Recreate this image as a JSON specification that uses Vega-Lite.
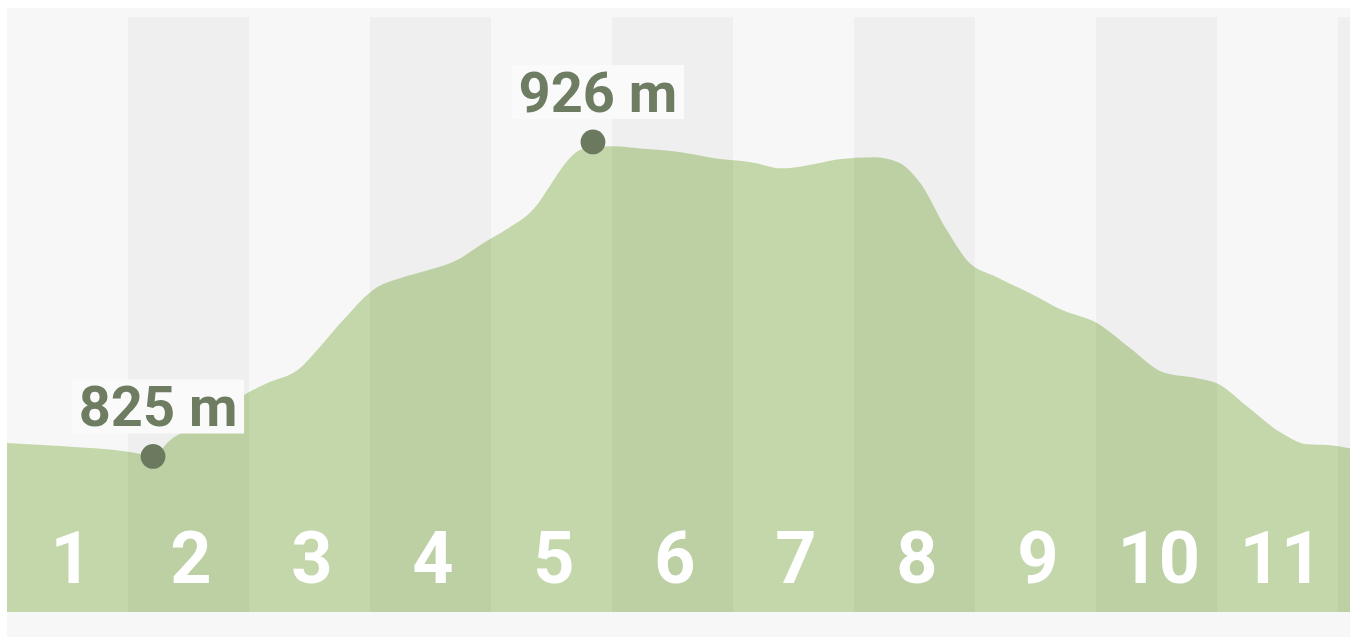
{
  "$schema": "https://vega.github.io/schema/vega-lite/v6.json",
  "width": 1343,
  "height": 629,
  "autosize": {"type": "none"},
  "padding": {"left": 7, "top": 8, "right": 3, "bottom": 0},
  "background": "#ffffff",
  "view": {"fill": "#f7f7f7", "stroke": null},
  "config": {"font": "Roboto"},
  "datasets": {
    "profile": [
      {"km": 0, "elev": 829.3},
      {"km": 0.438, "elev": 828.3},
      {"km": 1.017, "elev": 826.4},
      {"km": 1.207, "elev": 825.2},
      {"km": 1.347, "elev": 830.2},
      {"km": 1.455, "elev": 832.8},
      {"km": 1.719, "elev": 838.2},
      {"km": 1.983, "elev": 845.3},
      {"km": 2.149, "elev": 848.5},
      {"km": 2.421, "elev": 853.3},
      {"km": 2.562, "elev": 859.1},
      {"km": 2.777, "elev": 868.7},
      {"km": 3.058, "elev": 879.3},
      {"km": 3.248, "elev": 882.2},
      {"km": 3.455, "elev": 884.5},
      {"km": 3.686, "elev": 887.4},
      {"km": 3.975, "elev": 894.4},
      {"km": 4.116, "elev": 897.6},
      {"km": 4.38, "elev": 905.7},
      {"km": 4.496, "elev": 912.4},
      {"km": 4.636, "elev": 920.1},
      {"km": 4.752, "elev": 923.6},
      {"km": 4.992, "elev": 924.6},
      {"km": 5.314, "elev": 923.6},
      {"km": 5.57, "elev": 922.7},
      {"km": 5.86, "elev": 920.7},
      {"km": 6.149, "elev": 919.5},
      {"km": 6.405, "elev": 917.5},
      {"km": 6.579, "elev": 918.2},
      {"km": 6.876, "elev": 920.4},
      {"km": 7.165, "elev": 921.1},
      {"km": 7.364, "elev": 919.5},
      {"km": 7.545, "elev": 913.0},
      {"km": 7.769, "elev": 897.6},
      {"km": 7.934, "elev": 888.0},
      {"km": 8.182, "elev": 882.5},
      {"km": 8.455, "elev": 877.4},
      {"km": 8.727, "elev": 871.9},
      {"km": 9.008, "elev": 867.8},
      {"km": 9.281, "elev": 859.8},
      {"km": 9.554, "elev": 852.0},
      {"km": 9.835, "elev": 850.1},
      {"km": 10.0, "elev": 848.5},
      {"km": 10.248, "elev": 841.1},
      {"km": 10.521, "elev": 832.8},
      {"km": 10.744, "elev": 828.9},
      {"km": 10.934, "elev": 828.6},
      {"km": 11.1, "elev": 827.6}
    ],
    "bands": [
      {"start": 1, "end": 2},
      {"start": 3, "end": 4},
      {"start": 5, "end": 6},
      {"start": 7, "end": 8},
      {"start": 9, "end": 10},
      {"start": 11, "end": 11.1}
    ],
    "kms": [
      {"label": "1", "km": 0.53},
      {"label": "2", "km": 1.52},
      {"label": "3", "km": 2.52},
      {"label": "4", "km": 3.52},
      {"label": "5", "km": 4.52},
      {"label": "6", "km": 5.52},
      {"label": "7", "km": 6.52},
      {"label": "8", "km": 7.52},
      {"label": "9", "km": 8.52},
      {"label": "10", "km": 9.52},
      {"label": "11", "km": 10.53}
    ],
    "peaks": [
      {"km": 1.207, "elev": 825, "label": "825 m"},
      {"km": 4.843, "elev": 926, "label": "926 m"}
    ]
  },
  "layer": [
    {
      "mark": {"type": "rect", "color": "#f4f4f4"},
      "encoding": {
        "x": {"datum": 0, "type": "quantitative", "scale": {"domain": [0, 11.1], "nice": false, "zero": false, "padding": 0}, "axis": null},
        "x2": {"datum": 11.1},
        "y": {"datum": 767, "type": "quantitative", "scale": {"domain": [767, 969], "nice": false, "zero": false}, "axis": null},
        "y2": {"datum": 775}
      }
    },
    {
      "mark": {"type": "rect", "color": "#fbfbfb"},
      "encoding": {
        "x": {"datum": 0, "type": "quantitative", "axis": null},
        "x2": {"datum": 11.1},
        "y": {"datum": 966, "type": "quantitative", "axis": null},
        "y2": {"datum": 969}
      }
    },
    {
      "data": {"name": "profile"},
      "mark": {"type": "area", "color": "#c3d7aa", "interpolate": "monotone"},
      "encoding": {
        "x": {"field": "km", "type": "quantitative", "axis": null},
        "y": {"field": "elev", "type": "quantitative", "axis": null},
        "y2": {"datum": 775}
      }
    },
    {
      "data": {"name": "bands"},
      "mark": {"type": "rect", "color": "#1a2a10", "opacity": 0.04},
      "encoding": {
        "x": {"field": "start", "type": "quantitative", "axis": null},
        "x2": {"field": "end"},
        "y": {"datum": 775, "type": "quantitative", "axis": null},
        "y2": {"datum": 966}
      }
    },
    {
      "data": {"name": "kms"},
      "mark": {"type": "text", "color": "#ffffff", "font": "Roboto", "fontWeight": "bold", "fontSize": 72, "align": "center", "baseline": "alphabetic"},
      "encoding": {
        "x": {"field": "km", "type": "quantitative", "axis": null},
        "y": {"datum": 784.4, "type": "quantitative", "axis": null},
        "text": {"field": "label"}
      }
    },
    {
      "data": {"name": "peaks"},
      "mark": {"type": "point", "shape": "M-1,-0.314H1V0.314H-1Z", "size": 29584, "filled": true, "color": "#fafafa", "opacity": 1, "xOffset": 5, "yOffset": -50, "strokeWidth": 0},
      "encoding": {
        "x": {"field": "km", "type": "quantitative", "axis": null},
        "y": {"field": "elev", "type": "quantitative", "axis": null}
      }
    },
    {
      "data": {"name": "peaks"},
      "mark": {"type": "circle", "size": 615, "color": "#6b7a5f", "opacity": 1},
      "encoding": {
        "x": {"field": "km", "type": "quantitative", "axis": null},
        "y": {"field": "elev", "type": "quantitative", "axis": null}
      }
    },
    {
      "data": {"name": "peaks"},
      "mark": {"type": "text", "color": "#6e7d62", "font": "Roboto", "fontWeight": "bold", "fontSize": 56, "align": "center", "baseline": "alphabetic", "xOffset": 5, "yOffset": -30},
      "encoding": {
        "x": {"field": "km", "type": "quantitative", "axis": null},
        "y": {"field": "elev", "type": "quantitative", "axis": null},
        "text": {"field": "label"}
      }
    }
  ]
}
